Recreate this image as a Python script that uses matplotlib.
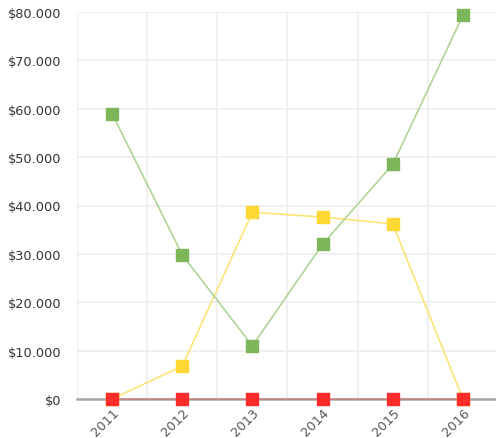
import matplotlib
matplotlib.use("Agg")
import matplotlib.pyplot as plt
from matplotlib.ticker import FuncFormatter, MultipleLocator

years = ["2011", "2012", "2013", "2014", "2015", "2016"]
green_vals = [59000, 29800, 11000, 32000, 48500, 79300]
yellow_vals = [0, 6800, 38600, 37600, 36200, 0]
red_vals = [0, 0, 0, 0, 0, 0]

fig = plt.figure(figsize=(4.96, 4.39), dpi=100)
ax = fig.add_axes([77/496, 1 - 400/439, (498 - 77)/496, (400 - 13)/439])

x = list(range(len(years)))
ax.plot(x, yellow_vals, color="#fde36a", lw=1.1, marker="s", ms=9,
        mfc="#fdd835", mec="#fdd835", zorder=5, clip_on=False)
ax.plot(x, green_vals, color="#a9d18e", lw=1.1, marker="s", ms=9,
        mfc="#7cb55a", mec="#7cb55a", zorder=6, clip_on=False)
ax.plot(x, red_vals, color="#ff2a2a", lw=1.2, alpha=0.3, zorder=4, clip_on=False)
ax.plot(x, red_vals, ls="none", marker="s", ms=9,
        mfc="#ff2a2a", mec="#ff2a2a", zorder=7, clip_on=False)

ax.set_xlim(-0.5, len(years) - 0.5)
ax.set_ylim(0, 80000)
ax.yaxis.set_major_locator(MultipleLocator(10000))
ax.yaxis.set_major_formatter(FuncFormatter(
    lambda v, p: "$0" if v == 0 else "$" + f"{int(v):,}".replace(",", ".")))
ax.set_xticks(x)
ax.set_xticklabels(years, rotation=45, ha="right", rotation_mode="anchor")
ax.set_xticks([i + 0.5 for i in range(-1, len(years))], minor=True)

ax.grid(True, which="major", axis="y", color="#efefef", lw=1.3)
ax.grid(True, which="minor", axis="x", color="#efefef", lw=1.3)
ax.set_axisbelow(True)
for s in ["top", "right", "left"]:
    ax.spines[s].set_visible(False)
ax.spines["bottom"].set_color("#a8a8a8")
ax.spines["bottom"].set_linewidth(1.8)
ax.spines["bottom"].set_zorder(3)

ax.tick_params(axis="both", which="both", length=0, labelsize=9.3)
ax.tick_params(axis="y", pad=11, colors="#333333")
ax.tick_params(axis="x", pad=5, colors="#555555")

fig.savefig("out.png", dpi=100)
